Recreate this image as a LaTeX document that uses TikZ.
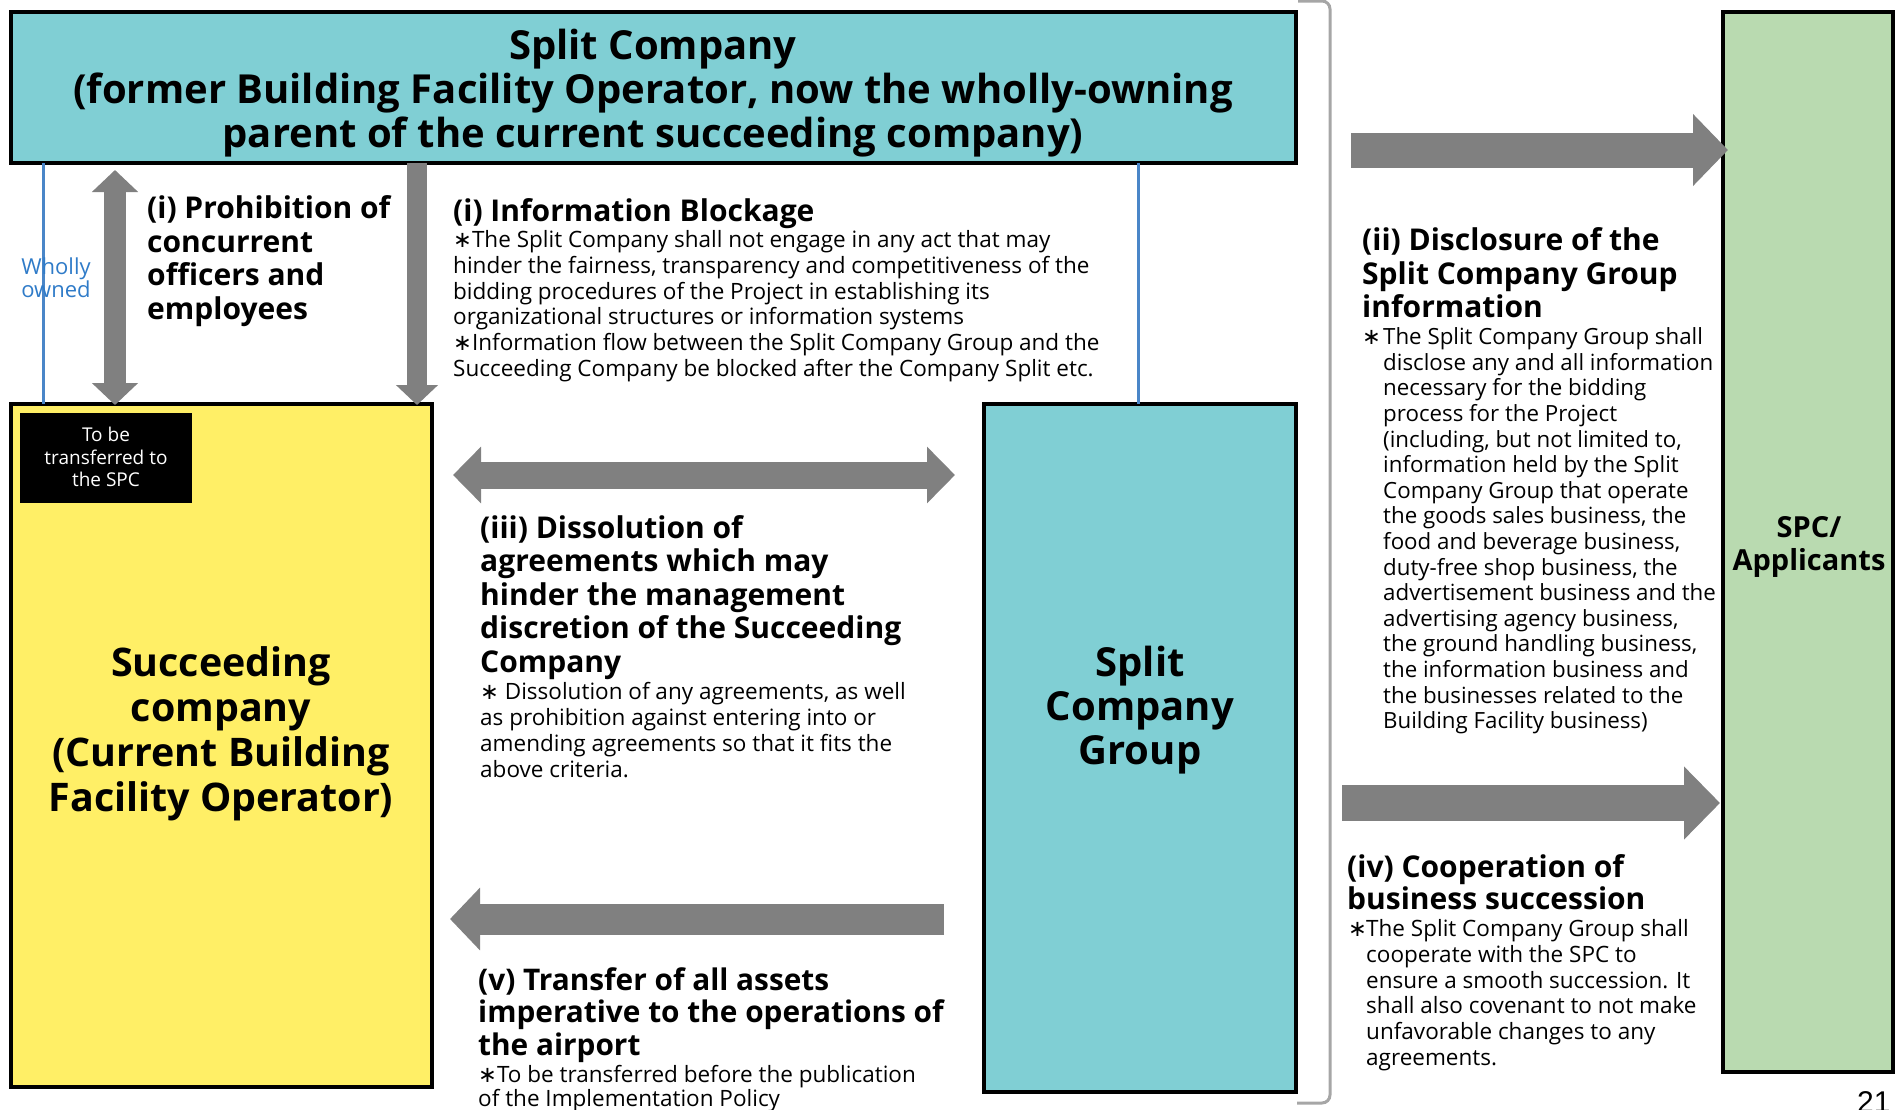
\documentclass[tikz,border=0pt]{standalone}
\usepackage{fontspec}
\setmainfont{Open Sans}
\newfontfamily\symf{DejaVu Sans}
\newfontfamily\numf{Liberation Sans}
\usetikzlibrary{arrows.meta}
\definecolor{cyanbox}{HTML}{80CFD4}
\definecolor{yelbox}{HTML}{FFEF66}
\definecolor{grnbox}{HTML}{B9DAB0}
\definecolor{arrgray}{HTML}{808080}
\definecolor{bline}{HTML}{4A86C8}
\definecolor{btext}{HTML}{2F7BC8}
\definecolor{brgray}{HTML}{A6A6A6}
\newcommand\myast{{\symf ∗}}
\newcommand\fst[1]{\rule{0pt}{#1pt}}
\tikzset{
  box/.style={draw=black, line width=3.5pt, inner sep=0, outer sep=0, anchor=north west},
  ttl/.style={font=\fontsize{40}{44}\selectfont\bfseries, align=center, inner sep=0, anchor=north},
  big/.style={font=\fontsize{39.4}{45}\selectfont\bfseries, align=center, inner sep=0, anchor=north},
  hd/.style={font=\fontsize{30}{33.5}\selectfont\bfseries, align=left, inner sep=0, anchor=north west},
  bd/.style={font=\fontsize{22.5}{25.7}\selectfont, align=left, inner sep=0, anchor=north west},
  sm/.style={font=\fontsize{19}{22.5}\selectfont, align=center, inner sep=0, anchor=north},
  garrow/.style={draw=arrgray, line cap=butt},
  blueline/.style={draw=bline, line width=3pt},
}
\begin{document}
\begin{tikzpicture}[x=1pt,y=-1pt]
\useasboundingbox (0,0) rectangle (1899,1109);
% boxes
\node[box, fill=cyanbox, minimum width=1285pt, minimum height=151pt] (top) at (11,12) {};
\node[box, fill=yelbox, minimum width=421pt, minimum height=683pt] (succ) at (11,404) {};
\node[box, fill=cyanbox, minimum width=312pt, minimum height=688pt] (scg) at (984,404) {};
\node[box, fill=grnbox, minimum width=170pt, minimum height=1060pt] (spc) at (1723,12) {};
\node[fill=black, inner sep=0, minimum width=172pt, minimum height=90pt, anchor=north west] (blk) at (20,413) {};
% bracket
\draw[brgray, line width=3pt, rounded corners=8pt] (1298,1) -- (1330,1) -- (1330,1103) -- (1297,1103);
% blue lines
\coordinate (w1) at (43,0);
\coordinate (w2) at (1138,0);
\draw[blueline] (top.south -| w1) -- (succ.north -| w1);
\draw[blueline] (top.south -| w2) -- (scg.north -| w2);
% arrows
\coordinate (a1t) at (115,170);
\coordinate (a1b) at (115,405);
\draw[garrow, line width=22pt, {Triangle[length=22pt,width=45pt]}-{Triangle[length=22pt,width=45pt]}] (a1t) -- (a1b);
\coordinate (a2x) at (417,0);
\coordinate (a2b) at (417,405);
\draw[garrow, line width=20.5pt, -{Triangle[length=20pt,width=41pt]}] (top.south -| a2x) -- (a2b);
\coordinate (a3l) at (453,475);
\coordinate (a3r) at (955,475);
\draw[garrow, line width=27pt, {Triangle[length=28pt,width=55pt]}-{Triangle[length=28pt,width=55pt]}] (a3l) -- (a3r);
\coordinate (a5r) at (944,919);
\coordinate (a5l) at (450,919);
\draw[garrow, line width=31pt, -{Triangle[length=30pt,width=61pt]}] (a5r) -- (a5l);
\coordinate (a6l) at (1351,150);
\coordinate (a6r) at (1728,150);
\draw[garrow, line width=35pt, -{Triangle[length=35pt,width=70pt]}] (a6l) -- (a6r);
\coordinate (a7l) at (1342,803);
\coordinate (a7r) at (1720,803);
\draw[garrow, line width=36pt, -{Triangle[length=36pt,width=71pt]}] (a7l) -- (a7r);
% texts
\node[ttl] (ttlt) at (653,23.5) {\fst{36}Split Company\\(former Building Facility Operator, now the wholly-owning\\parent of the current succeeding company)};
\node[sm, text=btext, font=\fontsize{22}{21.8}\selectfont] (wo) at (56,254) {\fst{20}Wholly\\owned};
\node[sm, text=white] (blkt) at (106,424.5) {\fst{17}To be\\transferred to\\the SPC};
\node[big] (succt) at (221,640.5) {\fst{35.5}Succeeding\\company\\(Current Building\\Facility Operator)};
\node[big, font=\fontsize{40}{44.3}\selectfont\bfseries] (scgt) at (1140,640.5) {\fst{35.5}Split\\Company\\Group};
\node[big, font=\fontsize{29}{32.5}\selectfont\bfseries] (spct) at (1809,511.5) {\fst{26}SPC/\\Applicants};
\node[hd] (h1) at (147,191.5) {\fst{27}(i) Prohibition of\\concurrent\\officers and\\employees};
\node[hd] (h2) at (453,194.5) {\fst{27}(i) Information Blockage};
\node[bd] (b2) at (453,227.6) {\fst{20}\myast The Split Company shall not engage in any act that may\\hinder the fairness, transparency and competitiveness of the\\bidding procedures of the Project in establishing its\\organizational structures or information systems\\\myast Information flow between the Split Company Group and the\\Succeeding Company be blocked after the Company Split etc.};
\node[hd] (h3) at (480,511) {\fst{27}(iii) Dissolution of\\agreements which may\\hinder the management\\discretion of the Succeeding\\Company};
\node[bd, font=\fontsize{22.5}{25.8}\selectfont] (b3) at (480,679.6) {\fst{20}\myast{} Dissolution of any agreements, as well\\as prohibition against entering into or\\amending agreements so that it fits the\\above criteria.};
\node[hd, font=\fontsize{29.8}{32.7}\selectfont\bfseries] (h5) at (478,963) {\fst{27}(v) Transfer of all assets\\imperative to the operations of\\the airport};
\node[bd, font=\fontsize{22.5}{24}\selectfont] (b5) at (478,1062.5) {\fst{20}\myast To be transferred before the publication\\of the Implementation Policy};
\node[hd, font=\fontsize{30}{33.8}\selectfont\bfseries] (h6) at (1362,223) {\fst{27}(ii) Disclosure of the\\Split Company Group\\information};
\node[bd, anchor=base west] (s6) at (1362,344.5) {\myast};
\node[bd, font=\fontsize{22.3}{25.6}\selectfont] (b6) at (1383,324.5) {\fst{20}The Split Company Group shall\\disclose any and all information\\necessary for the bidding\\process for the Project\\(including, but not limited to,\\information held by the Split\\Company Group that operate\\the goods sales business, the\\food and beverage business,\\duty-free shop business, the\\advertisement business and the\\advertising agency business,\\the ground handling business,\\the information business and\\the businesses related to the\\Building Facility business)};
\node[hd, font=\fontsize{30}{32.7}\selectfont\bfseries] (h7) at (1347,850) {\fst{27}(iv) Cooperation of\\business succession};
\node[bd, anchor=base west] (s7) at (1348,936.5) {\myast};
\node[bd] (b7) at (1366,916.5) {\fst{20}The Split Company Group shall\\cooperate with the SPC to\\ensure a smooth succession. It\\shall also covenant to not make\\unfavorable changes to any\\agreements.};
\node[inner sep=0, anchor=base west, font=\fontsize{30}{36}\selectfont\numf] (pg) at (1857,1112) {21};
\end{tikzpicture}
\end{document}
